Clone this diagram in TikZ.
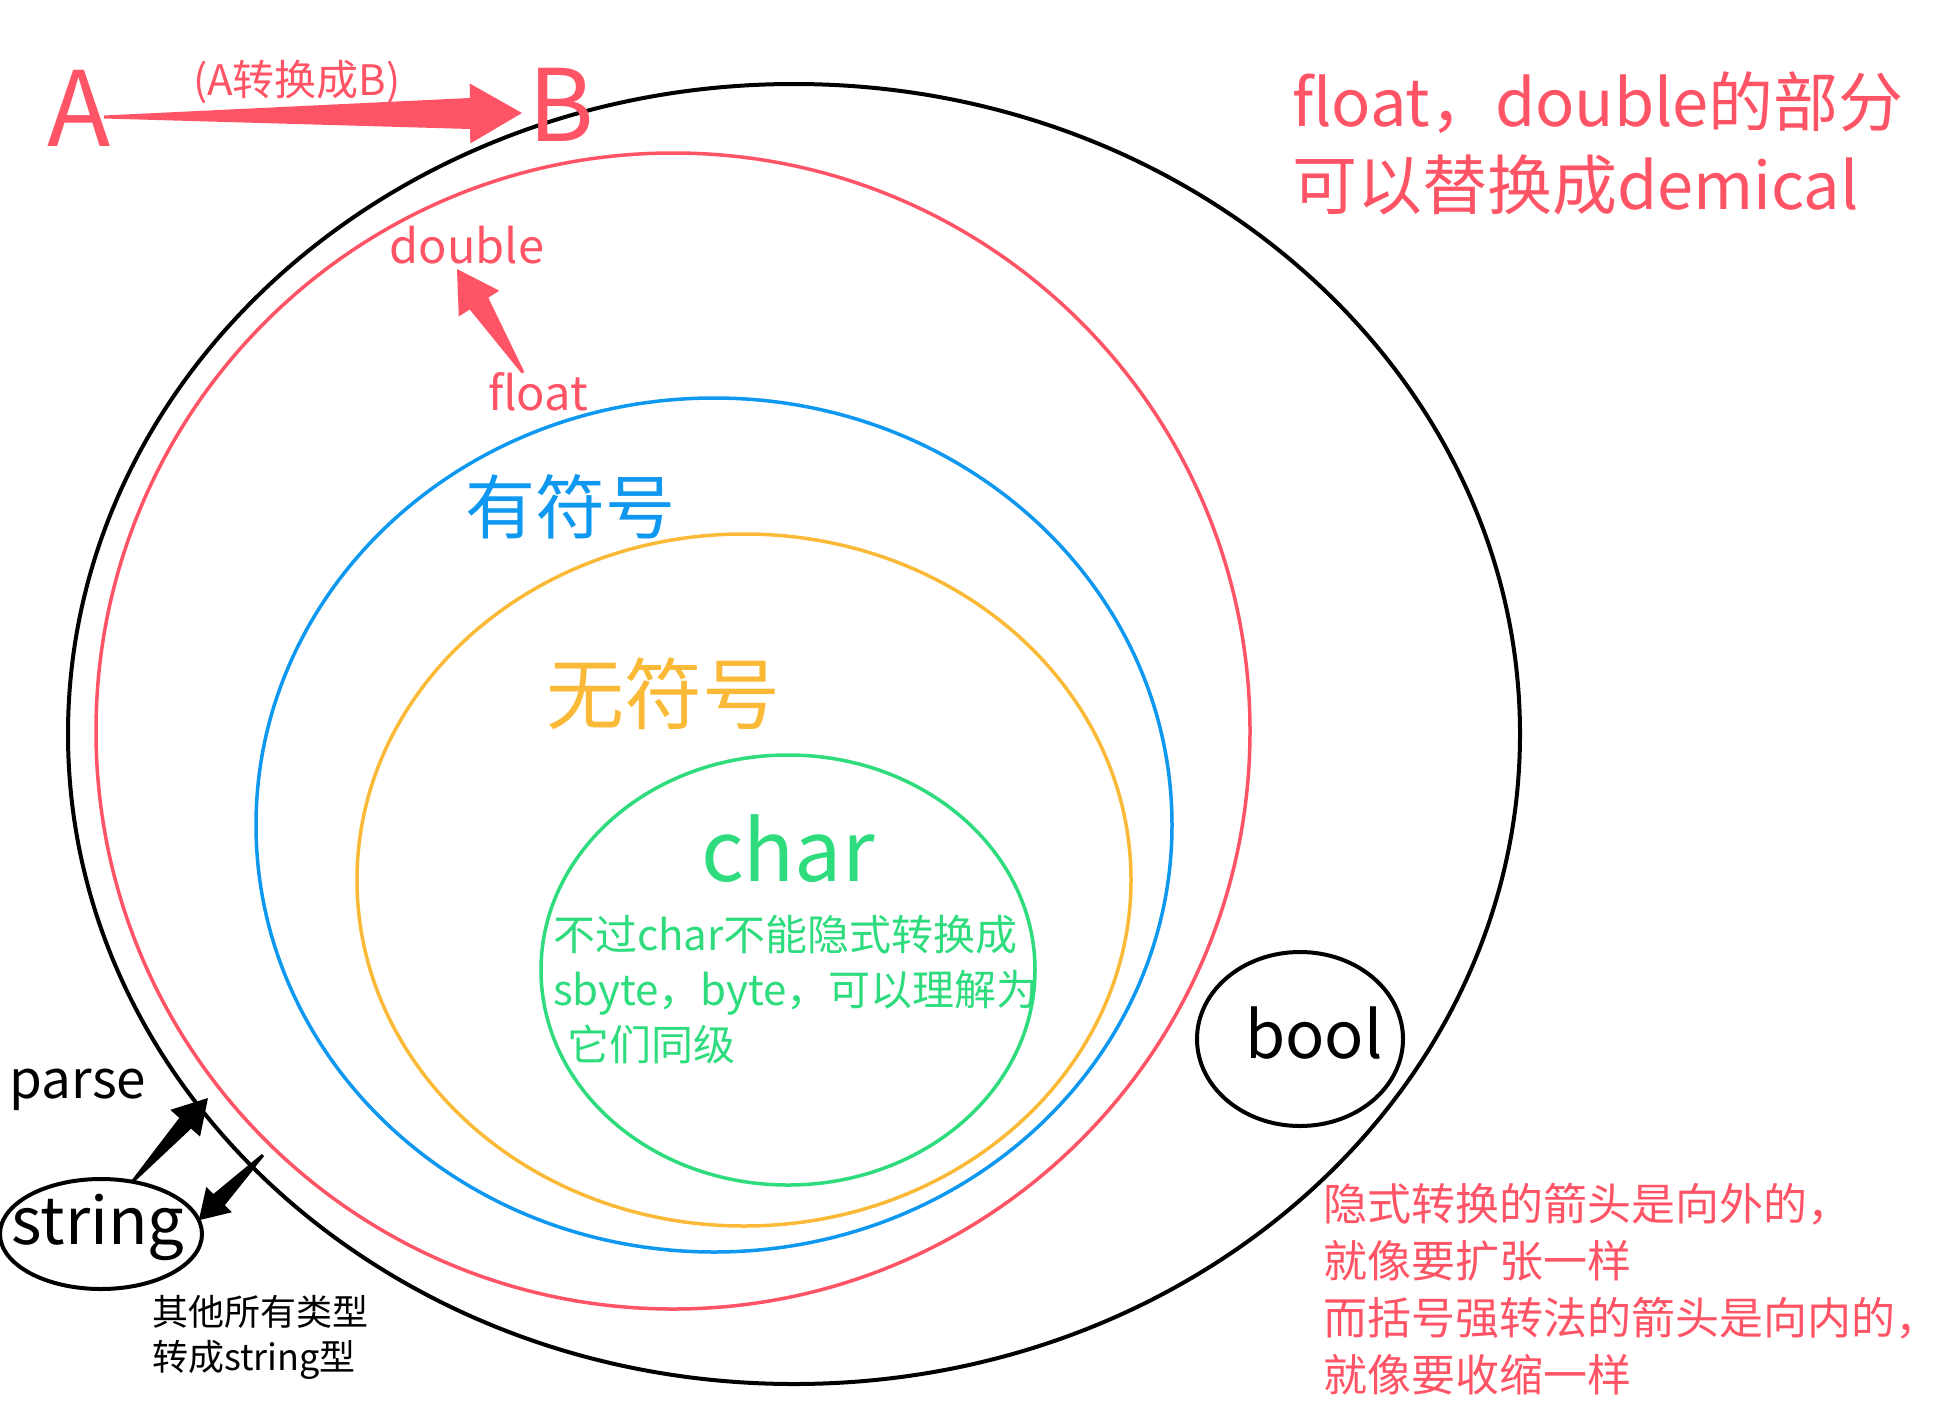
\documentclass[tikz,border=0pt]{standalone}
\usepackage{fontspec}
\setmainfont{Noto Sans CJK SC}
\usetikzlibrary{shapes.geometric,calc}
\definecolor{cred}{RGB}{255,84,102}
\definecolor{cblue}{RGB}{14,152,240}
\definecolor{corange}{RGB}{250,186,56}
\definecolor{cgreen}{RGB}{46,220,126}
\newcommand{\fsz}[2]{\fontsize{#1}{#2}\selectfont}
% tapered arrow: #1 colour, #2 from, #3 to, #4 head length, #5 head half width, #6 shaft half width
\newcommand{\taper}[6]{%
  \path (#2) coordinate (tp-s) (#3) coordinate (tp-e);
  \path ($(tp-e)!#4!(tp-s)$) coordinate (tp-b);
  \fill[#1] ($(tp-s)!1.5pt!90:(tp-e)$) -- ($(tp-b)!#6!90:(tp-e)$) -- ($(tp-b)!#5!90:(tp-e)$)
    -- (tp-e) -- ($(tp-b)!#5!-90:(tp-e)$) -- ($(tp-b)!#6!-90:(tp-e)$)
    -- ($(tp-s)!1.5pt!-90:(tp-e)$) -- cycle;
}
\begin{document}
\begin{tikzpicture}[x=1pt,y=-1pt,
  ring/.style={ellipse, draw, inner sep=0pt, outer sep=0pt, line width=3.5pt},
  lbl/.style={inner sep=0pt, outer sep=0pt},
  para/.style={inner sep=0pt, outer sep=0pt, align=left, anchor=north west}]
\fill[white] (0,0) rectangle (1940,1421);
\useasboundingbox (0,0) rectangle (1940,1421);

% nested sets
\node[ring, line width=4pt, draw=black, minimum width=1452pt, minimum height=1300pt] (outer) at (794,734) {};
\node[ring, draw=cred, minimum width=1154pt, minimum height=1156pt] (redset) at (673,731) {};
\node[ring, draw=cblue, minimum width=916pt, minimum height=854pt] (blueset) at (714,825) {};
\node[ring, draw=corange, minimum width=774pt, minimum height=692pt] (orangeset) at (744,880) {};
\node[ring, draw=cgreen, minimum width=494pt, minimum height=430pt] (greenset) at (788,970) {};
\node[ring, line width=4pt, draw=black, minimum width=206pt, minimum height=174pt] (boolset) at (1300,1039) {};
\node[ring, line width=4pt, draw=black, minimum width=202pt, minimum height=110pt] (stringset) at (101,1234) {};

% A -> B legend
\node[lbl, font=\fsz{104}{104}, text=cred] (A) at (79,108) {A};
\node[lbl, font=\fsz{100}{100}, text=cred] (B) at (561,105) {B};
\node[lbl, font=\fsz{42}{46}, text=cred] (AtoB) at (297,82) {(A转换成B)};
\taper{cred}{$(A.center)+(25,9)$}{$(B.center)+(-39,8)$}{52pt}{30pt}{15.5pt}

% labels in sets
\node[lbl, font=\fsz{47}{50}, text=cred] (double) at (467,245) {double};
\node[lbl, font=\fsz{47}{50}, text=cred] (float) at (538,392) {float};
\taper{cred}{$(float.north)+(-15,0)$}{$(double.south)+(-10,5)$}{41pt}{24pt}{11pt}

\node[lbl, font=\fsz{70}{70}, text=cblue] (signed) at (570,507) {有符号};
\node[lbl, font=\fsz{78}{78}, text=corange] (unsigned) at (663,694) {无符号};
\node[lbl, font=\fsz{84}{84}, text=cgreen] (char) at (788,849) {char};
\node[para, font=\fsz{42}{55}, text=cgreen] (charnote) at (553,915)
  {不过char不能隐式转换成\\sbyte，byte，可以理解为\\\hspace*{14pt}它们同级};

\node[lbl, font=\fsz{65}{65}] (bool) at (1314,1033) {bool};
\node[lbl, font=\fsz{65}{65}] (string) at (98,1227) {string};
\node[lbl, font=\fsz{53}{53}] (parse) at (78,1090) {parse};
\node[para, font=\fsz{36}{45}] (tostring) at (152,1295) {其他所有类型\\转成string型};

\coordinate (parsetip) at (208,1098);
\coordinate (tostrtail) at (263,1155);
\taper{black}{stringset.59}{parsetip}{34pt}{20pt}{8pt}
\taper{black}{tostrtail}{stringset.8}{29pt}{18pt}{8pt}

% notes
\node[para, font=\fsz{65}{83}, text=cred] (fdnote) at (1292,72) {float，double的部分\\可以替换成demical};
\node[para, font=\fsz{44}{57}, text=cred] (arrownote) at (1323,1183)
  {隐式转换的箭头是向外的，\\就像要扩张一样\\而括号强转法的箭头是向内的，\\就像要收缩一样};
\end{tikzpicture}
\end{document}
